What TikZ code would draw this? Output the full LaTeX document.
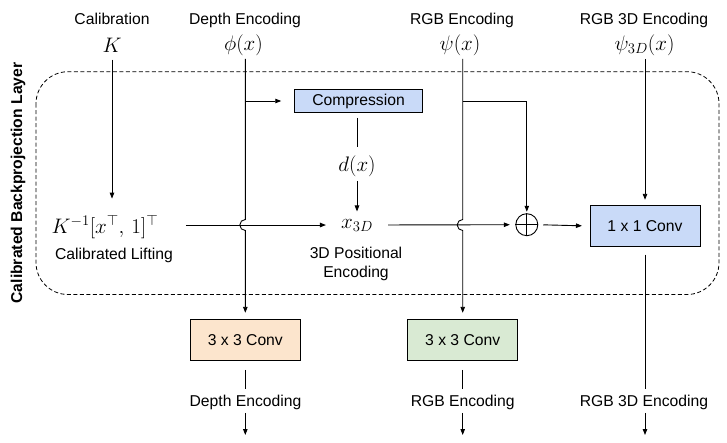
\RequirePackage{fix-cm}
\documentclass[tikz,border=0pt]{standalone}
\usepackage[no-math]{fontspec}
\setmainfont{Liberation Sans}
\usetikzlibrary{arrows.meta,calc}
\definecolor{blueF}{HTML}{C9DAF8}
\definecolor{orangeF}{HTML}{FCE5CD}
\definecolor{greenF}{HTML}{D9EAD3}
\tikzset{
  lbl/.style={font=\fontsize{15.7}{19.5}\selectfont, inner sep=0pt, anchor=base},
  mth/.style={font=\fontsize{21}{25}\selectfont, inner sep=0pt, anchor=base},
  box/.style={draw, line width=0.9pt, minimum width=110pt, minimum height=41.5pt,
    font=\fontsize{15.7}{19}\selectfont, inner sep=0pt},
  conn/.style={line width=0.9pt},
  arr/.style={conn, -{Triangle[length=6pt,width=4.5pt]}},
  frame/.style={draw, dash pattern=on 4pt off 2.5pt, line width=0.8pt, rounded corners=32pt},
}
\begin{document}
\begin{tikzpicture}[x=1pt,y=1pt]
\useasboundingbox (0,0) rectangle (727,-442);

% frame
\draw[frame] (36,-71.7) rectangle (719,-294.5);
\node[font=\fontsize{15.7}{19}\selectfont\bfseries, rotate=90, inner sep=0pt] (layer) at (18,-183) {Calibrated Backprojection Layer};

% top labels
\node[lbl] (tCal) at (112,-24.5) {Calibration};
\node[mth] (mK) at (112,-52) {$K$};
\node[lbl] (tDep) at (245,-24.5) {Depth Encoding};
\node[mth] (mphi) at (243.5,-50) {$\phi(x)$};
\node[lbl] (tRGB) at (462,-24.5) {RGB Encoding};
\node[mth] (mpsi) at (460,-50) {$\psi(x)$};
\node[lbl] (tRGB3) at (644,-24.5) {RGB 3D Encoding};
\node[mth] (mpsi3) at (644.5,-50) {$\psi_{3D}(x)$};

% inner nodes
\node[mth] (lift) at (105,-233) {$K^{-1}[x^\top,\,1]^\top$};
\node[lbl] (tlift) at (114,-259) {Calibrated Lifting};
\node[draw, line width=0.9pt, fill=blueF, minimum width=128.4pt, minimum height=23.4pt,
  inner sep=0pt, font=\fontsize{15.7}{19}\selectfont] (comp) at (358.5,-101) {Compression};
\node[mth] (md) at (357,-171) {$d(x)$};
\node[mth] (mx3) at (357,-228.3) {$x_{3D}$};
\node[font=\fontsize{15.7}{19.5}\selectfont, inner sep=0pt, align=center] (tpos) at (356,-264) {3D Positional\\Encoding};
\node[draw, circle, line width=0.9pt, minimum size=22pt, inner sep=0pt] (oplus) at (526.8,-224.7) {};
\draw[conn] (oplus.north) -- (oplus.south) (oplus.west) -- (oplus.east);
\node[box, fill=blueF] (conv1) at (645,-226) {1 x 1 Conv};
\node[box, fill=orangeF] (dconv) at (245.3,-340) {3 x 3 Conv};
\node[box, fill=greenF] (rconv) at (462.7,-340) {3 x 3 Conv};

% bottom labels
\node[lbl] (tDout) at (245.5,-406) {Depth Encoding};
\node[lbl] (tRout) at (462.7,-406) {RGB Encoding};
\node[lbl] (t3out) at (644,-406) {RGB 3D Encoding};
\coordinate (eD) at (245.3,-435);
\coordinate (eR) at (462.7,-435);
\coordinate (e3) at (645,-435);
\coordinate (yH) at (0,-225);
\coordinate (jt) at (0,-219.5);

% connectors
\draw[arr, shorten <=7.3pt, shorten >=16.4pt] (mK.south) -- (mK.south |- lift.north);
\draw[arr, shorten <=27.5pt, shorten >=15pt] (lift.east |- yH) -- (mx3.west |- yH);
\draw[arr, shorten <=15pt, shorten >=5.5pt] (mx3.east |- yH) -- (oplus.west);
\draw[arr, shorten <=5pt, shorten >=7.6pt] (oplus.east) -- (conv1.west);
\draw[conn, shorten <=4.6pt, shorten >=8.5pt] (comp.south -| md.north) -- (md.north);
\draw[arr, shorten <=4.5pt, shorten >=7.6pt] (md.south) -- (mx3.north);

% depth line with jump
\draw[arr, shorten <=3.5pt, shorten >=6pt] (dconv.north |- mphi.south) -- (dconv.north |- jt)
  arc[start angle=90, end angle=270, radius=5.5] -- (dconv.north);
\draw[arr, shorten >=12.6pt] (dconv.north |- comp.west) -- (comp.west);
% rgb line with jump
\draw[arr, shorten <=3.5pt, shorten >=6pt] (rconv.north |- mpsi.south) -- (rconv.north |- jt)
  arc[start angle=90, end angle=270, radius=5.5] -- (rconv.north);
\draw[arr, shorten >=1.5pt] (rconv.north |- comp.east) -| (oplus.north);
% rgb 3d
\draw[arr, shorten <=3.5pt, shorten >=5pt] (conv1.north |- mpsi3.south) -- (conv1.north);
\draw[conn, shorten <=7.3pt, shorten >=5.5pt] (conv1.south) -- (conv1.south |- t3out.north);
\draw[arr, shorten <=3.4pt] (conv1.south |- t3out.south) -- (e3);
% bottom outputs
\draw[conn, shorten <=8.6pt, shorten >=5.5pt] (dconv.south) -- (dconv.south |- tDout.north);
\draw[arr, shorten <=3.4pt] (dconv.south |- tDout.south) -- (eD);
\draw[conn, shorten <=8.6pt, shorten >=5.5pt] (rconv.south) -- (rconv.south |- tRout.north);
\draw[arr, shorten <=3.4pt] (rconv.south |- tRout.south) -- (eR);
\end{tikzpicture}
\end{document}
